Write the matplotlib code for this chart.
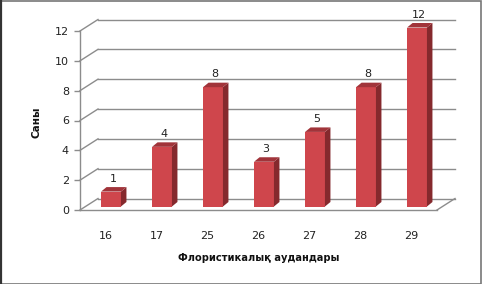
import matplotlib
matplotlib.use("Agg")
import matplotlib.pyplot as plt
from matplotlib.transforms import ScaledTranslation
from matplotlib.patches import Polygon, Rectangle
import numpy as np

categories = ["16", "17", "25", "26", "27", "28", "29"]
values = [1, 4, 8, 3, 5, 8, 12]
yticks = [0, 2, 4, 6, 8, 10, 12]
xlabel = "Флористикалық аудандары"
ylabel = "Саны"

plt.rcParams['font.family'] = ['DejaVu Sans']

W, H = 482, 284
fig = plt.figure(figsize=(W / 100, H / 100), dpi=100)
ax = fig.add_axes([80 / W, 74 / H, 357 / W, 179 / H])
ax.set_xlim(-0.5, 6.5)
ax.set_ylim(0, 12)
ax.patch.set_visible(False)
for s in ax.spines.values():
    s.set_visible(False)

def off(dx, dy):
    return ax.transData + ScaledTranslation(dx / 100, -dy / 100, fig.dpi_scale_trans)

grid_col = "#8c8c8c"
BX, BY = 18, -11.5  # back wall offset in pixels
tback = off(BX, BY)
for t in yticks:
    ax.plot([-0.5, 6.5], [t, t], color=grid_col, lw=1.0, transform=tback, clip_on=False, zorder=1)
    x0 = ax.transData.transform((-0.5, t))
    ax.plot([x0[0], x0[0] + BX], [x0[1], x0[1] - BY], color=grid_col, lw=1.0,
            transform=None, clip_on=False, zorder=1)
p = ax.transData.transform((6.5, 0))
ax.plot([p[0], p[0] + BX], [p[1], p[1] - BY], color=grid_col, lw=1.0, transform=None,
        clip_on=False, zorder=1)
ax.plot([-0.5, 6.5], [0, 0], color=grid_col, lw=1.0, clip_on=False, zorder=2)
ax.plot([-0.5, -0.5], [0, 12], color=grid_col, lw=1.0, clip_on=False, zorder=2)

# bars
bw = 0.39
DX, DY = 5.5, -3.5
SX, SY = 5.5, -4.5
front_col = "#cf464c"
side_col = "#85292d"
top_col = "#a1343a"
tbar = off(DX, DY)
bars = ax.bar(np.arange(len(values)), values, width=bw, color=front_col,
              transform=tbar, zorder=4, edgecolor="none", clip_on=False)
for i, v in enumerate(values):
    fl = tbar.transform((i - bw / 2, v))
    fr = tbar.transform((i + bw / 2, v))
    br = tbar.transform((i + bw / 2, 0))
    side = Polygon([fr, (fr[0] + SX, fr[1] - SY), (br[0] + SX, br[1] - SY), br],
                   closed=True, facecolor=side_col, edgecolor="none", transform=None, zorder=3)
    top = Polygon([fl, fr, (fr[0] + SX, fr[1] - SY), (fl[0] + SX, fl[1] - SY)],
                  closed=True, facecolor=top_col, edgecolor="none", transform=None, zorder=3)
    fig.add_artist(side)
    fig.add_artist(top)
    ax.text(i, v, str(v), transform=off(DX + 2, DY - 13), ha="center", va="center",
            fontsize=8, color="#222222", zorder=5, clip_on=False)

ax.set_xticks(range(len(categories)))
ax.set_xticklabels(categories)
ax.set_yticks(yticks)
ax.tick_params(axis="x", length=0, pad=15, labelsize=8, colors="#222222")
ax.tick_params(axis="y", length=4, width=1, color=grid_col, pad=4, labelsize=8, labelcolor="#222222")

fig.text(259 / W, 1 - 258 / H, xlabel, ha="center", va="center", fontsize=7.1,
         fontweight="bold", color="#111111")
fig.text(36 / W, 1 - 122 / H, ylabel, ha="center", va="center", rotation=90, fontsize=7.5,
         fontweight="bold", color="#111111")

fig.add_artist(Rectangle((0.5 / W, 0.5 / H), (W - 2) / W, (H - 1.5) / H, transform=fig.transFigure,
                         fill=False, edgecolor="#777777", lw=1.2))
fig.add_artist(plt.Line2D([0.8 / W, 0.8 / W], [0, 1], transform=fig.transFigure,
                          color="#333333", lw=1.6))

fig.savefig("out.png", dpi=100)
